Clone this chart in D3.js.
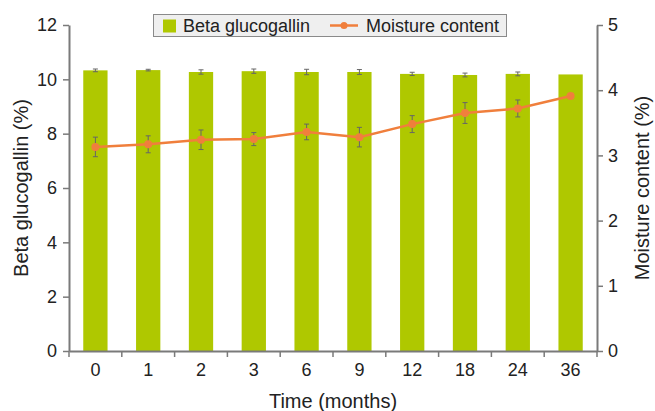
<!DOCTYPE html>
<html>
<head>
<meta charset="utf-8">
<script src="https://cdn.jsdelivr.net/npm/d3@7"></script>
<style>
body { margin: 0; background: #fff; }
text { font-family: "Liberation Sans", Arial, sans-serif; fill: #222; }
</style>
</head>
<body>
<div id="chart"></div>
<script>
var width = 655
var height = 411

// data
var months = ['0', '1', '2', '3', '6', '9', '12', '18', '24', '36']
var beta_glucogallin = [10.33, 10.34, 10.27, 10.30, 10.27, 10.27, 10.20, 10.16, 10.20, 10.18]
var beta_err = [0.05, 0.03, 0.08, 0.08, 0.10, 0.09, 0.06, 0.07, 0.07, 0]
var moisture = [3.13, 3.17, 3.24, 3.25, 3.36, 3.28, 3.48, 3.65, 3.72, 3.91]
var moisture_err = [0.15, 0.13, 0.15, 0.10, 0.12, 0.15, 0.13, 0.16, 0.13, 0]
var left_ticks = [0, 2, 4, 6, 8, 10, 12]
var right_ticks = [0, 1, 2, 3, 4, 5]

var axis_col = '#7a7a7a'
var bar_col = '#afc800'
var line_col = '#f07f3c'
var err_col = '#666'

var svg = d3.select('#chart')
  .append('svg')
  .attr('width', width)
  .attr('height', height)

var x = d3.scaleBand()
  .domain(months)
  .range([69, 597])
  .padding(0)

var y_left = d3.scaleLinear()
  .domain([0, 12])
  .range([351, 25])

var y_right = d3.scaleLinear()
  .domain([0, 5])
  .range([351, 25])

var bar_w = x.bandwidth() * 0.46

// bars
svg.selectAll('.bar')
  .data(beta_glucogallin)
  .enter()
  .append('rect')
  .attr('class', 'bar')
  .attr('x', function(d, i) { return x(months[i]) + (x.bandwidth() - bar_w) / 2 })
  .attr('y', function(d) { return y_left(d) })
  .attr('width', bar_w)
  .attr('height', function(d) { return y_left(0) - y_left(d) })
  .style('fill', bar_col)

// error bars helper
function draw_errors(values, errs, scale) {
  var g = svg.append('g')
  values.forEach(function(v, i) {
    if (errs[i] === 0) return
    var cx = x(months[i]) + x.bandwidth() / 2
    var y1 = scale(v + errs[i])
    var y2 = scale(v - errs[i])
    g.append('line').attr('x1', cx).attr('x2', cx).attr('y1', y1).attr('y2', y2)
      .style('stroke', err_col).style('stroke-width', 1)
    g.append('line').attr('x1', cx - 2.5).attr('x2', cx + 2.5).attr('y1', y1).attr('y2', y1)
      .style('stroke', err_col).style('stroke-width', 1)
    g.append('line').attr('x1', cx - 2.5).attr('x2', cx + 2.5).attr('y1', y2).attr('y2', y2)
      .style('stroke', err_col).style('stroke-width', 1)
  })
}

draw_errors(beta_glucogallin, beta_err, y_left)

// moisture line
var line = d3.line()
  .x(function(d, i) { return x(months[i]) + x.bandwidth() / 2 })
  .y(function(d) { return y_right(d) })

svg.append('path')
  .datum(moisture)
  .attr('d', line)
  .style('fill', 'none')
  .style('stroke', line_col)
  .style('stroke-width', 2.5)

draw_errors(moisture, moisture_err, y_right)

svg.selectAll('.dot')
  .data(moisture)
  .enter()
  .append('circle')
  .attr('class', 'dot')
  .attr('cx', function(d, i) { return x(months[i]) + x.bandwidth() / 2 })
  .attr('cy', function(d) { return y_right(d) })
  .attr('r', 4)
  .style('fill', line_col)

// axes
function style_axis(g) {
  g.selectAll('path').style('stroke', axis_col).style('stroke-width', 2)
  g.selectAll('line').style('stroke', axis_col).style('stroke-width', 1.5)
  g.selectAll('text').style('font-size', '18px').style('fill', '#222')
    .style('font-family', '"Liberation Sans", Arial, sans-serif')
}

svg.append('g')
  .attr('transform', 'translate(69,0)')
  .call(d3.axisLeft(y_left).tickValues(left_ticks).tickFormat(d3.format('d'))
    .tickSize(6).tickSizeOuter(0).tickPadding(6))
  .call(style_axis)

svg.append('g')
  .attr('transform', 'translate(597,0)')
  .call(d3.axisRight(y_right).tickValues(right_ticks).tickFormat(d3.format('d'))
    .tickSize(6).tickSizeOuter(0).tickPadding(5))
  .call(style_axis)

var x_axis = svg.append('g')
  .attr('transform', 'translate(0,351)')
  .call(d3.axisBottom(x).tickSize(0).tickSizeOuter(0).tickPadding(12))
  .call(style_axis)

// x ticks sit on the band boundaries
var bounds = months.map(function(m) { return x(m) }).concat([x.range()[1]])
x_axis.selectAll('.bound')
  .data(bounds)
  .enter()
  .append('line')
  .attr('x1', function(d) { return d })
  .attr('x2', function(d) { return d })
  .attr('y1', 0)
  .attr('y2', 6)
  .style('stroke', axis_col)
  .style('stroke-width', 1.5)

// axis titles
svg.append('text')
  .attr('transform', 'translate(28,188) rotate(-90)')
  .attr('text-anchor', 'middle')
  .style('font-size', '20px')
  .text('Beta glucogallin (%)')

svg.append('text')
  .attr('transform', 'translate(649,188) rotate(-90)')
  .attr('text-anchor', 'middle')
  .style('font-size', '20px')
  .text('Moisture content (%)')

svg.append('text')
  .attr('x', 333)
  .attr('y', 408)
  .attr('text-anchor', 'middle')
  .style('font-size', '20px')
  .text('Time (months)')

// legend
var legend = svg.append('g')

legend.append('rect')
  .attr('x', 153.5)
  .attr('y', 14.5)
  .attr('width', 353)
  .attr('height', 22)
  .style('fill', '#efefef')
  .style('stroke', '#8a8a8a')
  .style('stroke-width', 1)

legend.append('rect')
  .attr('x', 163)
  .attr('y', 19.5)
  .attr('width', 13)
  .attr('height', 13)
  .style('fill', bar_col)

legend.append('text')
  .attr('x', 183)
  .attr('y', 32)
  .style('font-size', '18px')
  .text('Beta glucogallin')

legend.append('line')
  .attr('x1', 330)
  .attr('x2', 358)
  .attr('y1', 25.5)
  .attr('y2', 25.5)
  .style('stroke', line_col)
  .style('stroke-width', 2.5)

legend.append('circle')
  .attr('cx', 344)
  .attr('cy', 25.5)
  .attr('r', 3.5)
  .style('fill', line_col)

legend.append('text')
  .attr('x', 366)
  .attr('y', 32)
  .style('font-size', '18px')
  .text('Moisture content')
</script>
</body>
</html>
